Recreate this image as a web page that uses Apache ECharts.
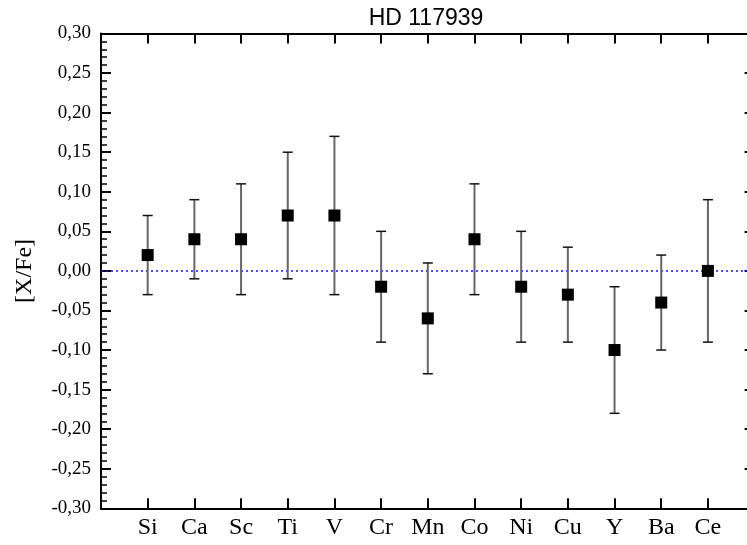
<!DOCTYPE html>
<html>
<head>
<meta charset="utf-8">
<script src="https://cdn.jsdelivr.net/npm/echarts@6/dist/echarts.min.js"></script>
<style>html,body{margin:0;padding:0;background:#fff;}#c{width:747px;height:545px;}</style>
</head>
<body>
<div id="c"></div>
<script>
const categories = ['Si','Ca','Sc','Ti','V','Cr','Mn','Co','Ni','Cu','Y','Ba','Ce'];
const values = [0.02, 0.04, 0.04, 0.07, 0.07, -0.02, -0.06, 0.04, -0.02, -0.03, -0.10, -0.04, 0.00];
const upper = [0.07, 0.09, 0.11, 0.15, 0.17, 0.05, 0.01, 0.11, 0.05, 0.03, -0.02, 0.02, 0.09];
const lower = [-0.03, -0.01, -0.03, -0.01, -0.03, -0.09, -0.13, -0.03, -0.09, -0.09, -0.18, -0.10, -0.09];
const yTicks = [-0.30,-0.25,-0.20,-0.15,-0.10,-0.05,0.00,0.05,0.10,0.15,0.20,0.25,0.30];

const serif = '"Liberation Serif", "Times New Roman", serif';
const pts = values.map((v,i)=>[i+1, v]);
const errs = values.map((v,i)=>[i+1, lower[i], upper[i]]);

const chart = echarts.init(document.getElementById('c'), null, {renderer:'canvas'});
chart.setOption({
  animation: false,
  backgroundColor: '#fff',
  title: {
    text: 'HD 117939', left: 426, top: 7, textAlign: 'center', padding: 0,
    textStyle: {fontFamily: '"Liberation Sans", Arial, sans-serif', fontSize: 23, fontWeight: 'normal', color: '#000'}
  },
  grid: {left: 101, top: 33.5, width: 653.6, height: 474.8, containLabel: false, outerBoundsMode: 'none'},
  xAxis: [{
    type: 'value', min: 0, max: 14, interval: 1, position: 'bottom',
    axisLine: {show: true, onZero: false, lineStyle: {color: '#000', width: 2}},
    axisTick: {show: true, inside: true, length: 10, lineStyle: {color: '#000', width: 2}},
    axisLabel: {
      margin: 7, fontFamily: serif, fontSize: 24, color: '#000',
      formatter: v => (v >= 1 && v <= categories.length && Number.isInteger(v)) ? categories[v-1] : '',
      showMinLabel: false, showMaxLabel: false
    },
    splitLine: {show: false}
  },{
    type: 'value', min: 0, max: 14, interval: 1, position: 'top',
    axisLine: {show: true, onZero: false, lineStyle: {color: '#000', width: 2}},
    axisTick: {show: true, inside: true, length: 10, lineStyle: {color: '#000', width: 2}},
    axisLabel: {show: false},
    splitLine: {show: false}
  }],
  yAxis: [{
    type: 'value', min: -0.30, max: 0.30, interval: 0.05, position: 'left',
    name: '[X/Fe]', nameLocation: 'middle', nameGap: 64, nameRotate: 90,
    nameTextStyle: {fontFamily: serif, fontSize: 24, color: '#000'},
    axisLine: {show: true, onZero: false, lineStyle: {color: '#000', width: 2}},
    axisTick: {show: true, inside: true, length: 10, lineStyle: {color: '#000', width: 2}},
    minorTick: {show: true, splitNumber: 5, length: 6, lineStyle: {color: '#000', width: 1.5}},
    axisLabel: {
      margin: 10, fontFamily: serif, fontSize: 19, color: '#000',
      formatter: v => {
        const t = yTicks.find(x => Math.abs(x - v) < 1e-9);
        const val = (t === undefined ? v : t);
        return (Math.abs(val) < 1e-9 ? 0 : val).toFixed(2).replace('.', ',');
      }
    },
    splitLine: {show: false}
  },{
    type: 'value', min: -0.30, max: 0.30, interval: 0.05, position: 'right',
    axisLine: {show: true, onZero: false, lineStyle: {color: '#000', width: 2}},
    axisTick: {show: true, inside: true, length: 10, lineStyle: {color: '#000', width: 2}},
    axisLabel: {show: false},
    splitLine: {show: false}
  }],
  series: [{
    type: 'custom',
    xAxisIndex: 0, yAxisIndex: 0,
    data: errs,
    renderItem: function(params, api) {
      const x = api.value(0);
      const lo = api.coord([x, api.value(1)]);
      const hi = api.coord([x, api.value(2)]);
      const cap = 5;
      return {
        type: 'group',
        children: [
          {type: 'line', shape: {x1: lo[0], y1: lo[1], x2: hi[0], y2: hi[1]}, style: {stroke: '#666', lineWidth: 2}},
          {type: 'line', shape: {x1: lo[0]-cap, y1: lo[1], x2: lo[0]+cap, y2: lo[1]}, style: {stroke: '#111', lineWidth: 1.5}},
          {type: 'line', shape: {x1: hi[0]-cap, y1: hi[1], x2: hi[0]+cap, y2: hi[1]}, style: {stroke: '#111', lineWidth: 1.5}}
        ]
      };
    },
    z: 2
  },{
    type: 'scatter',
    xAxisIndex: 0, yAxisIndex: 0,
    data: pts,
    symbol: 'rect', symbolSize: 12,
    itemStyle: {color: '#000', opacity: 1},
    z: 3,
    markLine: {
      silent: true, symbol: 'none', label: {show: false},
      lineStyle: {color: '#1010ff', type: [2, 3], width: 1.5, opacity: 1},
      data: [{yAxis: 0}],
      z: 1
    }
  }]
});
</script>
</body>
</html>
